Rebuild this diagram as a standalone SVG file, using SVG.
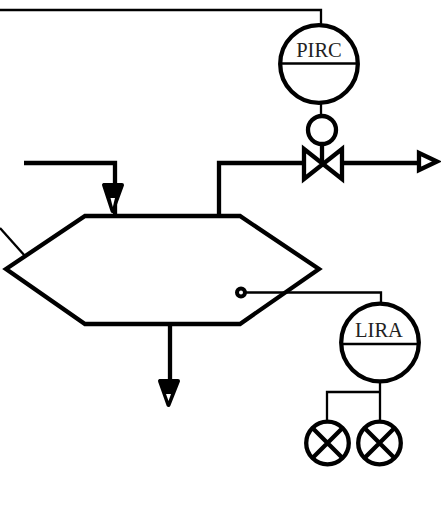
<svg xmlns="http://www.w3.org/2000/svg" width="441" height="517" viewBox="0 0 441 517">
<style>
.t{fill:none;stroke:#000;stroke-width:2.300}
.h{fill:none;stroke:#000;stroke-width:4.300}
.c{fill:#fff;stroke:#000;stroke-width:4.300}
.a{fill:#000;stroke:#000;stroke-width:4;stroke-linejoin:round}
.l{font-family:"Liberation Serif",serif;font-size:20.500px;fill:#222;text-anchor:middle}
</style>
<rect width="441" height="517" fill="#fff"/>
<g id="connectors">
<path class="t" d="M0 10H321V24"/>
<path class="t" d="M321 104V116"/>
<path class="h" d="M322 145V163"/>
<path class="t" d="M0 228L25 256"/>
<path class="h" d="M24 163H115V215"/>
<path class="h" d="M219 216V163H303"/>
<path class="h" d="M343 163H417"/>
<path class="h" d="M170 324V381"/>
<path class="t" d="M244 292.500H381V303"/>
<path class="t" d="M380 382V423"/>
<path class="t" d="M380 392H327V423"/>
<path class="a" d="M104 185H122L112.500 211Z"/>
<path d="M110.500 198H115L112.800 207Z" fill="#fff"/>
<path class="a" d="M160 381H178L168.500 405Z"/>
<path d="M166 394H171L168.500 401Z" fill="#fff"/>
<path class="h" d="M419 153L437 161.500L419 170Z"/>
</g>
<g id="vessel"><path class="h" d="M6 269L85 216H240L319 269L240 324H85Z"/></g>
<g id="level-tap"><circle cx="241" cy="292.500" r="4" fill="#fff" stroke="#000" stroke-width="4"/></g>
<g id="valve"><path class="h" d="M304 149L342 179V149L304 179Z"/></g>
<g id="actuator"><circle cx="322" cy="130" r="14" class="c"/></g>
<g id="pirc">
<circle cx="319" cy="64" r="38.800" class="c"/>
<path class="t" d="M280 63.500H358"/>
<text class="l" x="319" y="57">PIRC</text>
</g>
<g id="lira">
<circle cx="380" cy="342.500" r="38.800" class="c"/>
<path class="t" d="M341 344H419"/>
<text class="l" x="379" y="337">LIRA</text>
</g>
<g id="lamp-1">
<circle cx="327.500" cy="443" r="21.300" class="c"/>
<path class="h" d="M312.500 428L342.500 458M342.500 428L312.500 458"/>
</g>
<g id="lamp-2">
<circle cx="379.500" cy="443" r="21.300" class="c"/>
<path class="h" d="M364.500 428L394.500 458M394.500 428L364.500 458"/>
</g>
</svg>
